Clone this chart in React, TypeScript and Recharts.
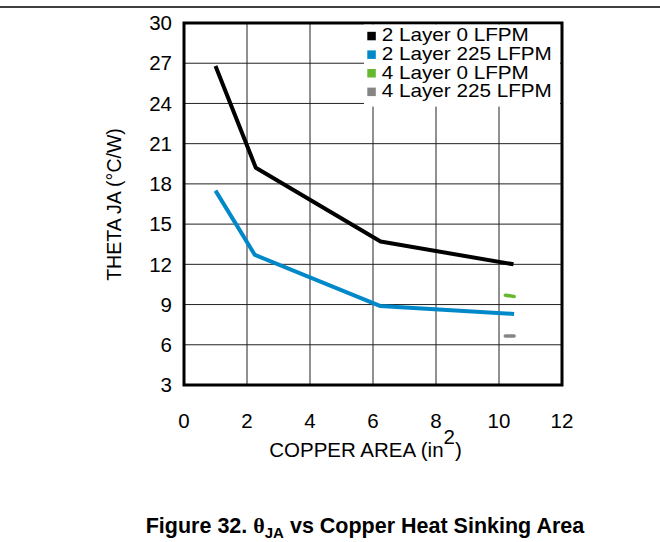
import React from "react";
import { LineChart, Line, XAxis, YAxis, CartesianGrid, ReferenceArea } from "recharts";

const xTicks = [0, 2, 4, 6, 8, 10, 12];
const yTicks = [3, 6, 9, 12, 15, 18, 21, 24, 27, 30];

const twoLayer0 = [
  { x: 1.0, y: 26.8 },
  { x: 2.28, y: 19.2 },
  { x: 6.24, y: 13.7 },
  { x: 10.46, y: 12.0 },
];
const twoLayer225 = [
  { x: 1.0, y: 17.5 },
  { x: 2.25, y: 12.7 },
  { x: 6.22, y: 8.9 },
  { x: 10.48, y: 8.3 },
];
const fourLayer0 = [
  { x: 10.2, y: 9.7 },
  { x: 10.48, y: 9.6 },
];
const fourLayer225 = [
  { x: 10.2, y: 6.65 },
  { x: 10.48, y: 6.65 },
];

const seriesNames = ["2 Layer 0 LFPM", "2 Layer 225 LFPM", "4 Layer 0 LFPM", "4 Layer 225 LFPM"];
const seriesColors = ["#000000", "#0088c8", "#66b92e", "#858585"];

const FONT = "'Liberation Sans', Arial, Helvetica, sans-serif";

export default function App() {
  return (
    <div style={{ position: "absolute", left: 0, top: 0, width: 660, height: 542, background: "#fff" }}>
      <LineChart width={660} height={542} margin={{ top: 23, right: 98, bottom: 127, left: 124 }}>
        <CartesianGrid stroke="#222" strokeWidth={1} />
        <XAxis
          dataKey="x"
          type="number"
          domain={[0, 12]}
          ticks={xTicks}
          axisLine={false}
          tickLine={false}
          tickSize={0}
          tickMargin={28}
          height={30}
          tick={{ fill: "#000", fontSize: 20.5, fontFamily: FONT }}
          interval={0}
        />
        <YAxis
          type="number"
          domain={[3, 30]}
          ticks={yTicks}
          axisLine={false}
          tickLine={false}
          tickSize={0}
          tickMargin={12}
          width={60}
          tick={{ fill: "#000", fontSize: 20.5, fontFamily: FONT }}
          interval={0}
        />
        <Line data={twoLayer0} dataKey="y" stroke={seriesColors[0]} strokeWidth={4} dot={false} isAnimationActive={false} strokeLinejoin="round" />
        <Line data={twoLayer225} dataKey="y" stroke={seriesColors[1]} strokeWidth={4} dot={false} isAnimationActive={false} strokeLinejoin="round" />
        <Line data={fourLayer0} dataKey="y" stroke={seriesColors[2]} strokeWidth={3.5} dot={false} isAnimationActive={false} strokeLinecap="round" />
        <Line data={fourLayer225} dataKey="y" stroke={seriesColors[3]} strokeWidth={3.5} dot={false} isAnimationActive={false} strokeLinecap="round" />
        <ReferenceArea x1={0} x2={12} y1={3} y2={30} fill="none" fillOpacity={0} stroke="#000" strokeWidth={3} ifOverflow="visible" />
      </LineChart>
      <svg width={660} height={542} style={{ position: "absolute", left: 0, top: 0, pointerEvents: "none" }}>
        <line x1={0} x2={660} y1={7} y2={7} stroke="#000" strokeWidth={1.7} />
        <rect x={364} y={24.6} width={196} height={82} fill="#fff" />
        {seriesNames.map((name, i) => {
          const base = 41.4 + i * 18.6;
          return (
            <g key={name}>
              <rect x={367.3} y={base - 9.6} width={8.5} height={8.5} fill={seriesColors[i]} />
              <text transform={`translate(381.7, ${base}) scale(1.15, 1)`} fontSize={18} fontFamily={FONT} fill="#000">
                {name}
              </text>
            </g>
          );
        })}
        <text
          transform="translate(121, 204.5) rotate(-90)"
          textAnchor="middle"
          fontSize={19.5}
          fontFamily={FONT}
          fill="#000"
        >
          THETA JA (°C/W)
        </text>
        <text x={365.5} y={457} textAnchor="middle" fontSize={20.5} fontFamily={FONT} fill="#000">
          COPPER AREA (in
          <tspan dy={-13}>2</tspan>
          <tspan dy={13}>)</tspan>
        </text>
        <text x={365} y={533} textAnchor="middle" fontSize={21.5} fontWeight="bold" fontFamily={FONT} fill="#000">
          Figure 32.{" "}
          <tspan fontFamily="'Liberation Serif', 'Times New Roman', serif" fontWeight="bold" fontSize={22}>θ</tspan>
          <tspan fontSize={15} dy={5}>JA</tspan>
          <tspan dy={-5}> vs Copper Heat Sinking Area</tspan>
        </text>
      </svg>
    </div>
  );
}
